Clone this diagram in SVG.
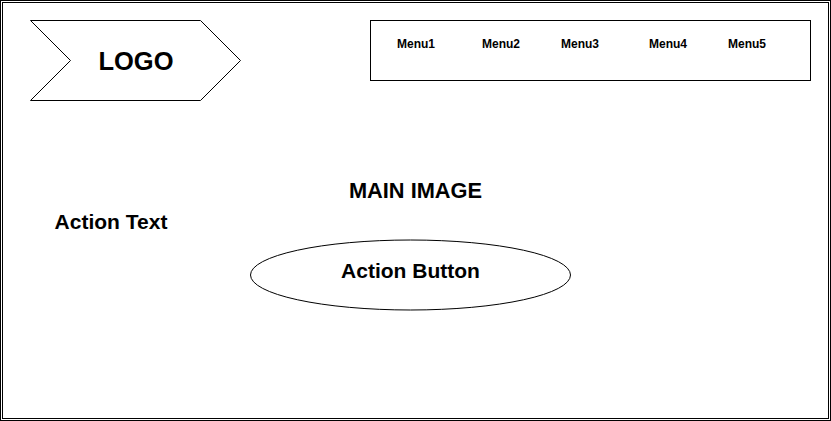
<svg xmlns="http://www.w3.org/2000/svg" width="831" height="421" viewBox="0 0 831 421">
<style>
.s{fill:#fff;stroke:#000;stroke-width:1}
.t{font-family:"Liberation Sans",Arial,sans-serif;font-weight:bold;fill:#000;text-anchor:middle}
.m{font-size:12px}
</style>
<rect width="831" height="421" fill="#fff"/>
<g id="frame">
<rect x="0.5" y="0.5" width="830" height="420" fill="none" stroke="#000"/>
<rect x="2.5" y="2.5" width="826" height="416" fill="none" stroke="#000"/>
</g>
<g id="logo">
<polygon class="s" points="30.5,20.5 200.5,20.5 240.5,60.5 200.5,100.5 30.5,100.5 70.5,60.5"/>
<text class="t" x="136" y="69.5" font-size="25.5">LOGO</text>
</g>
<g id="menu">
<rect class="s" x="370.5" y="20.5" width="440" height="60"/>
<text class="t m" x="416" y="48">Menu1</text>
<text class="t m" x="501" y="48">Menu2</text>
<text class="t m" x="580" y="48">Menu3</text>
<text class="t m" x="668" y="48">Menu4</text>
<text class="t m" x="747" y="48">Menu5</text>
</g>
<g id="main-image">
<text class="t" x="415.5" y="197.5" font-size="21.8">MAIN IMAGE</text>
</g>
<g id="action-text">
<text class="t" x="111" y="228.5" font-size="21">Action Text</text>
</g>
<g id="action-button">
<ellipse class="s" cx="410.5" cy="275" rx="160" ry="35"/>
<text class="t" x="410.5" y="277.5" font-size="21">Action Button</text>
</g>
<g id="connectors"/>
</svg>
